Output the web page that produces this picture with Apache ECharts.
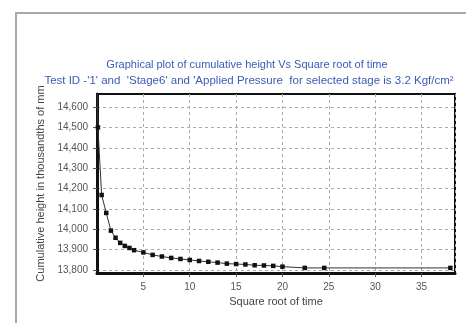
<!DOCTYPE html>
<html><head><meta charset="utf-8">
<script src="https://cdn.jsdelivr.net/npm/echarts@6/dist/echarts.min.js"></script>
<style>html,body{margin:0;padding:0;background:#fff}#c{width:466px;height:323px}</style>
</head><body><div id="c"></div>
<script>
const titleLine1 = "Graphical plot of cumulative height Vs Square root of time";
const titleLine2 = "Test ID -'1' and  'Stage6' and 'Applied Pressure  for selected stage is 3.2 Kgf/cm\u00B2";
const xName = "Square root of time";
const yName = "Cumulative height in thousandths of mm";
const sqrtTime = [0, 0.1, 0.5, 1, 1.5, 2, 2.5, 3, 3.5, 4, 5, 6, 7, 8, 9, 10, 11, 12, 13, 14, 15, 16, 17, 18, 19, 20, 22.4, 24.5, 38.1];
const height = [14700, 14500, 14168, 14080, 13993, 13958, 13933, 13918, 13908, 13897, 13886, 13874, 13866, 13859, 13854, 13849, 13844, 13840, 13836, 13831, 13829, 13827, 13823, 13822, 13820, 13816, 13810, 13810, 13810];
const yTicks = [13800, 13900, 14000, 14100, 14200, 14300, 14400, 14500, 14600];

const chart = echarts.init(document.getElementById('c'), null, {renderer: 'canvas'});
const font = 'Liberation Sans, Arial, sans-serif';
chart.setOption({
  animation: false,
  backgroundColor: '#fff',
  graphic: [
    {type: 'rect', shape: {x: 16, y: 13, width: 520, height: 400}, style: {fill: 'none', stroke: '#a8a8a8', lineWidth: 2}},
    {type: 'text', x: 247, y: 65, style: {text: titleLine1, fill: '#3b5bb5', font: '11px ' + font, textAlign: 'center', textVerticalAlign: 'middle'}},
    {type: 'text', x: 249, y: 81, style: {text: titleLine2, fill: '#3b5bb5', font: '11.5px ' + font, textAlign: 'center', textVerticalAlign: 'middle'}}
  ],
  grid: {left: 97, right: 11, top: 94, bottom: 50, show: true, borderColor: '#111', borderWidth: 2, backgroundColor: 'transparent'},
  xAxis: {
    type: 'value', min: 0, max: 38.6, interval: 5,
    name: xName, nameLocation: 'middle', nameGap: 22,
    nameTextStyle: {color: '#444', fontSize: 11, fontFamily: font},
    axisLine: {lineStyle: {color: '#111', width: 3}},
    axisTick: {show: true, length: 4, lineStyle: {color: '#555'}},
    axisLabel: {color: '#555', fontSize: 10, fontFamily: font, margin: 9, showMinLabel: false, showMaxLabel: false},
    splitLine: {show: true, lineStyle: {color: '#aaa', type: [3, 3], width: 1}}
  },
  yAxis: {
    type: 'value', min: 13785, max: 14664,
    name: yName, nameLocation: 'middle', nameGap: 49, nameRotate: 90,
    nameTextStyle: {color: '#444', fontSize: 11, fontFamily: font},
    axisLine: {lineStyle: {color: '#111', width: 3}},
    axisTick: {show: true, length: 4, lineStyle: {color: '#555'}, customValues: yTicks},
    axisLabel: {color: '#555', fontSize: 10, fontFamily: font, margin: 9, customValues: yTicks,
      formatter: v => v.toLocaleString('en-US')},
    splitLine: {show: true, lineStyle: {color: '#aaa', type: [3, 3], width: 1}}
  },
  series: [{
    type: 'line',
    data: sqrtTime.map((t, i) => [t, height[i]]),
    symbol: 'rect', symbolSize: 4.5, clip: true,
    lineStyle: {color: '#333', width: 1},
    itemStyle: {color: '#111'}
  }]
});
</script></body></html>
